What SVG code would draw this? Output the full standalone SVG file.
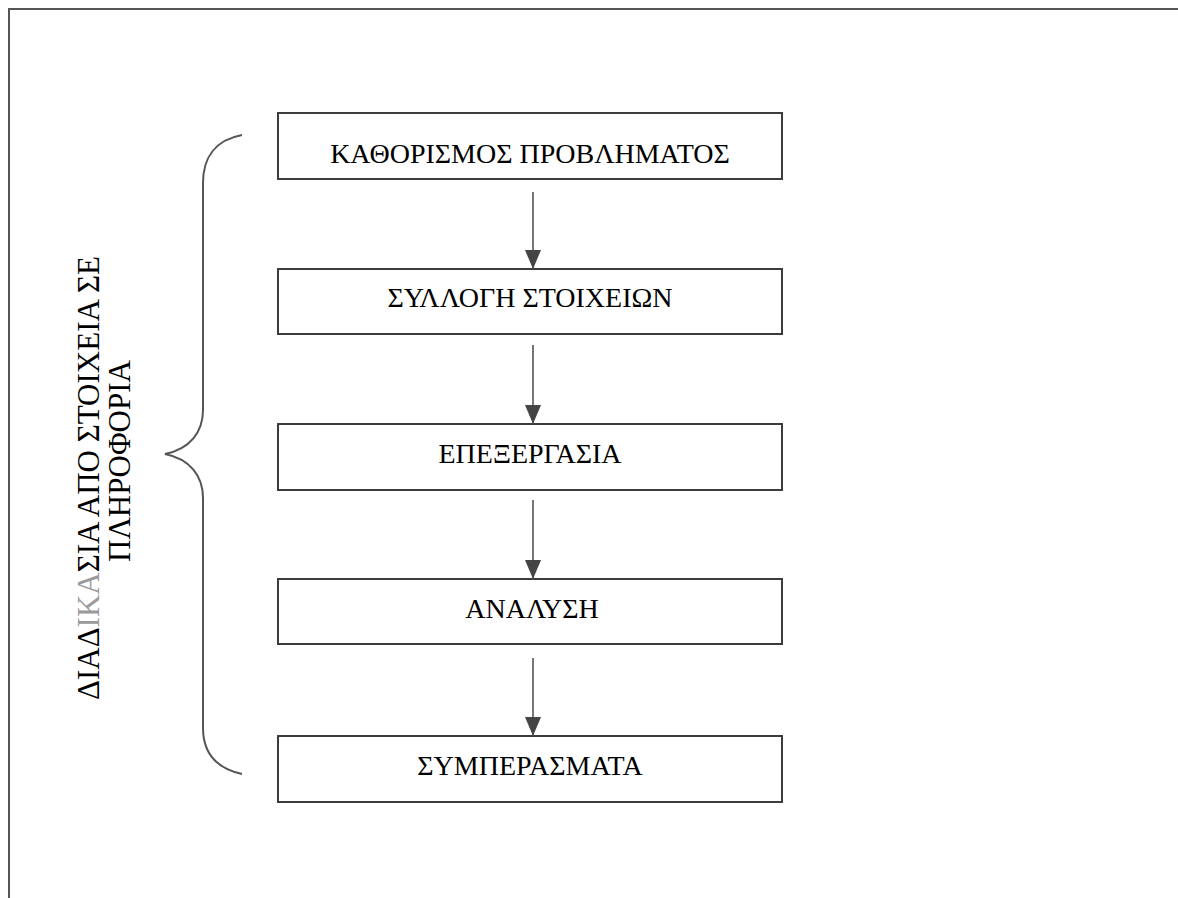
<svg xmlns="http://www.w3.org/2000/svg" width="1178" height="898" viewBox="0 0 1178 898">
<style>
.box{fill:#fff;stroke:#3c3c3c;stroke-width:2}
.lbl{font-family:"Liberation Serif","Times New Roman",serif;font-size:28px;fill:#000;text-anchor:middle}
.side{font-family:"Liberation Serif","Times New Roman",serif;font-size:31px;fill:#000}
.conn{stroke:#555;stroke-width:1.6;fill:none}
</style>
<defs>
<marker id="ah" markerUnits="userSpaceOnUse" markerWidth="19" markerHeight="16" refX="19" refY="8" orient="auto" viewBox="0 0 19 16">
<path d="M0,0 L19,8 L0,16 z" fill="#444"/>
</marker>
</defs>
<rect width="1178" height="898" fill="#fff"/>
<polyline points="9,898 9,9 1178,9" fill="none" stroke="#555" stroke-width="2"/>
<g id="brace">
<path d="M242,135 C215,140 203,158 203,183 L203,410 C203,432 190,449 165,454 C190,459 203,476 203,498 L203,728 C203,752 215,768 242,774" fill="none" stroke="#555" stroke-width="2"/>
</g>
<g id="side-label">
<text class="side" transform="translate(99,700) rotate(-90)">ΔΙΑΔ<tspan fill="#9a9a9a">ΙΚΑ</tspan>ΣΙΑ ΑΠΟ ΣΤΟΙΧΕΙΑ ΣΕ</text>
<text class="side" transform="translate(130,562) rotate(-90)">ΠΛΗΡΟΦΟΡΙΑ</text>
</g>
<g id="n1"><rect class="box" x="278" y="113" width="504" height="66"/><text class="lbl" x="530" y="163">ΚΑΘΟΡΙΣΜΟΣ ΠΡΟΒΛΗΜΑΤΟΣ</text></g>
<g id="n2"><rect class="box" x="278" y="269" width="504" height="65"/><text class="lbl" x="530" y="307">ΣΥΛΛΟΓΗ ΣΤΟΙΧΕΙΩΝ</text></g>
<g id="n3"><rect class="box" x="278" y="424" width="504" height="66"/><text class="lbl" x="530" y="463">ΕΠΕΞΕΡΓΑΣΙΑ</text></g>
<g id="n4"><rect class="box" x="278" y="579" width="504" height="65"/><text class="lbl" x="532" y="618">ΑΝΑΛΥΣΗ</text></g>
<g id="n5"><rect class="box" x="278" y="736" width="504" height="66"/><text class="lbl" x="530" y="775">ΣΥΜΠΕΡΑΣΜΑΤΑ</text></g>
<g id="connectors">
<line class="conn" x1="533" y1="192" x2="533" y2="269" marker-end="url(#ah)"/>
<line class="conn" x1="533" y1="345" x2="533" y2="424" marker-end="url(#ah)"/>
<line class="conn" x1="533" y1="500" x2="533" y2="579" marker-end="url(#ah)"/>
<line class="conn" x1="533" y1="658" x2="533" y2="736" marker-end="url(#ah)"/>
</g>
</svg>
